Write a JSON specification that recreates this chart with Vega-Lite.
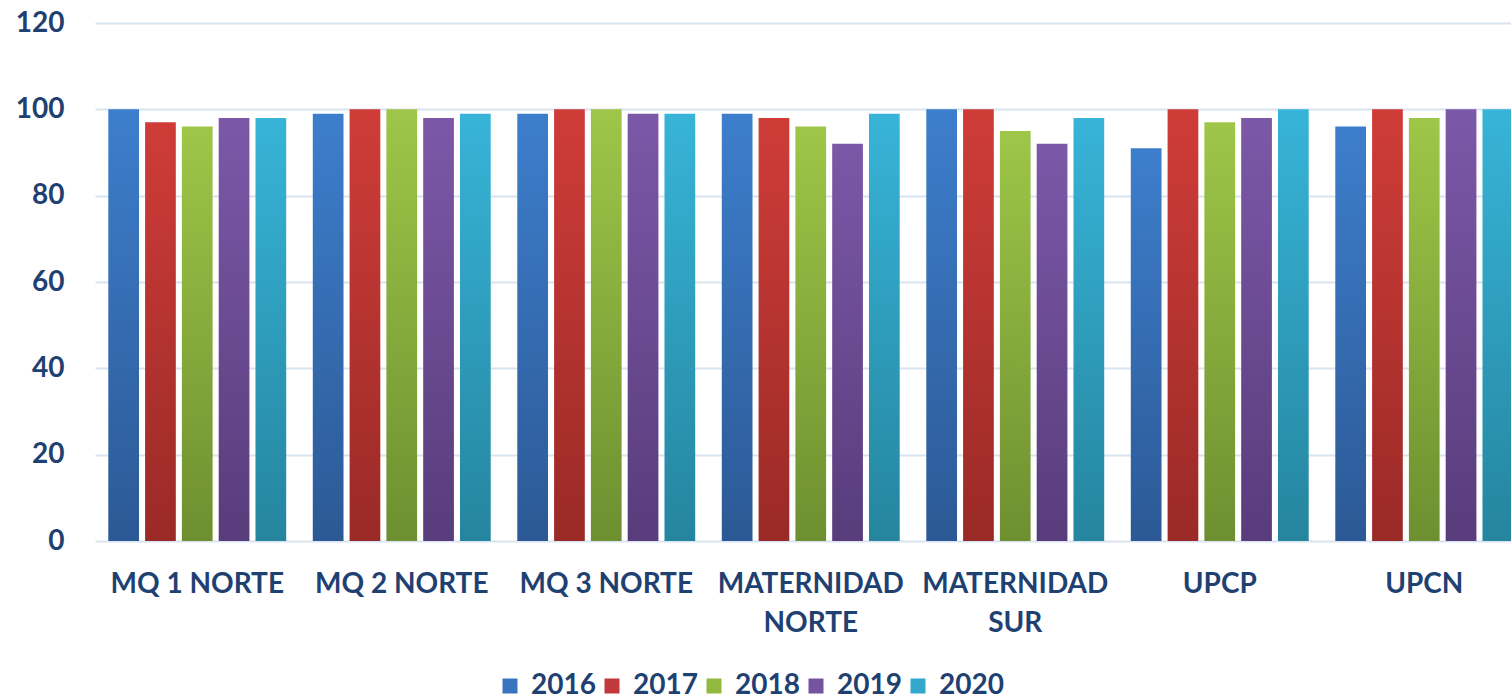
{
  "$schema": "https://vega.github.io/schema/vega-lite/v6.json",
  "autosize": {"type": "none"},
  "padding": {"left": 95, "top": 23, "right": 0, "bottom": 156},
  "width": 1416,
  "height": 518,
  "background": "white",
  "config": {"view": {"stroke": null}, "font": "Lato"},
  "data": {"values": [
    {"unidad": "MQ 1 NORTE", "year": "2016", "value": 100},
    {"unidad": "MQ 1 NORTE", "year": "2017", "value": 97},
    {"unidad": "MQ 1 NORTE", "year": "2018", "value": 96},
    {"unidad": "MQ 1 NORTE", "year": "2019", "value": 98},
    {"unidad": "MQ 1 NORTE", "year": "2020", "value": 98},
    {"unidad": "MQ 2 NORTE", "year": "2016", "value": 99},
    {"unidad": "MQ 2 NORTE", "year": "2017", "value": 100},
    {"unidad": "MQ 2 NORTE", "year": "2018", "value": 100},
    {"unidad": "MQ 2 NORTE", "year": "2019", "value": 98},
    {"unidad": "MQ 2 NORTE", "year": "2020", "value": 99},
    {"unidad": "MQ 3 NORTE", "year": "2016", "value": 99},
    {"unidad": "MQ 3 NORTE", "year": "2017", "value": 100},
    {"unidad": "MQ 3 NORTE", "year": "2018", "value": 100},
    {"unidad": "MQ 3 NORTE", "year": "2019", "value": 99},
    {"unidad": "MQ 3 NORTE", "year": "2020", "value": 99},
    {"unidad": "MATERNIDAD NORTE", "year": "2016", "value": 99},
    {"unidad": "MATERNIDAD NORTE", "year": "2017", "value": 98},
    {"unidad": "MATERNIDAD NORTE", "year": "2018", "value": 96},
    {"unidad": "MATERNIDAD NORTE", "year": "2019", "value": 92},
    {"unidad": "MATERNIDAD NORTE", "year": "2020", "value": 99},
    {"unidad": "MATERNIDAD SUR", "year": "2016", "value": 100},
    {"unidad": "MATERNIDAD SUR", "year": "2017", "value": 100},
    {"unidad": "MATERNIDAD SUR", "year": "2018", "value": 95},
    {"unidad": "MATERNIDAD SUR", "year": "2019", "value": 92},
    {"unidad": "MATERNIDAD SUR", "year": "2020", "value": 98},
    {"unidad": "UPCP", "year": "2016", "value": 91},
    {"unidad": "UPCP", "year": "2017", "value": 100},
    {"unidad": "UPCP", "year": "2018", "value": 97},
    {"unidad": "UPCP", "year": "2019", "value": 98},
    {"unidad": "UPCP", "year": "2020", "value": 100},
    {"unidad": "UPCN", "year": "2016", "value": 96},
    {"unidad": "UPCN", "year": "2017", "value": 100},
    {"unidad": "UPCN", "year": "2018", "value": 98},
    {"unidad": "UPCN", "year": "2019", "value": 100},
    {"unidad": "UPCN", "year": "2020", "value": 100}
  ]},
  "mark": {"type": "bar", "clip": false},
  "encoding": {
    "x": {
      "field": "unidad", "type": "nominal", "sort": null,
      "scale": {"range": [0, 1431.5], "paddingInner": 0.13, "paddingOuter": 0.065},
      "axis": {
        "title": null, "labelAngle": 0, "domain": false, "ticks": false,
        "labelPadding": 29, "labelFontSize": 28, "labelFont": "Lato", "labelFontWeight": "bold",
        "labelColor": "#1F4172", "labelLineHeight": 39, "labelBaseline": "top", "labelLimit": 0,
        "labelExpr": "indexof(datum.value, 'MATERNIDAD') == 0 ? split(datum.value, ' ') : datum.value"
      }
    },
    "xOffset": {
      "field": "year", "type": "nominal",
      "scale": {"paddingInner": 0.165, "paddingOuter": 0}
    },
    "y": {
      "field": "value", "type": "quantitative",
      "scale": {"domain": [0, 120]},
      "axis": {
        "title": null, "values": [0, 20, 40, 60, 80, 100, 120], "domain": false, "ticks": false,
        "labelPadding": 31, "labelFontSize": 28, "labelFont": "Lato", "labelFontWeight": "bold",
        "labelColor": "#1F4172", "grid": true, "gridColor": "#D9E4F2", "gridWidth": 2
      }
    },
    "color": {
      "condition": [
        {"test": "datum.year == '2016'", "value": {"gradient": "linear", "x1": 0, "y1": 0, "x2": 0, "y2": 1, "stops": [{"offset": 0, "color": "#3D7ECC"}, {"offset": 1, "color": "#2C5995"}]}},
        {"test": "datum.year == '2017'", "value": {"gradient": "linear", "x1": 0, "y1": 0, "x2": 0, "y2": 1, "stops": [{"offset": 0, "color": "#CF3C38"}, {"offset": 1, "color": "#9A2A27"}]}},
        {"test": "datum.year == '2018'", "value": {"gradient": "linear", "x1": 0, "y1": 0, "x2": 0, "y2": 1, "stops": [{"offset": 0, "color": "#9EC648"}, {"offset": 1, "color": "#6E8F30"}]}},
        {"test": "datum.year == '2019'", "value": {"gradient": "linear", "x1": 0, "y1": 0, "x2": 0, "y2": 1, "stops": [{"offset": 0, "color": "#7C58A8"}, {"offset": 1, "color": "#583C7B"}]}},
        {"test": "datum.year == '2020'", "value": {"gradient": "linear", "x1": 0, "y1": 0, "x2": 0, "y2": 1, "stops": [{"offset": 0, "color": "#37B4D8"}, {"offset": 1, "color": "#25859F"}]}}
      ],
      "field": "year", "type": "nominal",
      "scale": {"domain": ["2016", "2017", "2018", "2019", "2020"], "range": ["#3A74BE", "#C1393A", "#92B840", "#74549E", "#33A8CB"]},
      "legend": {
        "title": null, "orient": "none", "direction": "horizontal",
        "legendX": 401, "legendY": 649,
        "symbolType": "square", "symbolSize": 225, "symbolStrokeWidth": 0,
        "labelFontSize": 28, "labelFont": "Lato", "labelFontWeight": "bold", "labelColor": "#1F4172",
        "labelOffset": 7, "columnPadding": 2
      }
    }
  }
}
